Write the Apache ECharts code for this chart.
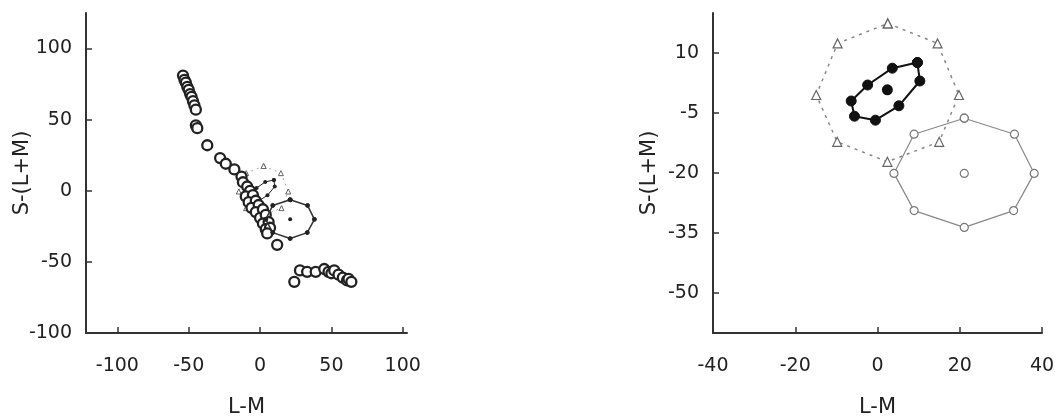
<!DOCTYPE html>
<html>
<head>
<meta charset="utf-8">
<script src="https://cdn.jsdelivr.net/npm/echarts@6/dist/echarts.min.js"></script>
<style>
  html, body { margin: 0; padding: 0; background: #fff; }
  #chart { width: 1055px; height: 418px; }
</style>
</head>
<body>
<div id="chart"></div>
<script>
// === ДАННЫЕ ===
// левая панель: след из открытых кружков [L-M, S-(L+M)]
const trailPoints = [
  [-54, 81], [-53, 78], [-52, 76], [-51, 73], [-50, 71], [-49, 68], [-48, 66], [-47, 63],
  [-46, 60], [-45, 57], [-45, 46], [-44, 44], [-37, 32], [-28, 23], [-24, 19], [-18, 15],
  [-13, 10], [-12, 6], [-9, 3], [-7, 0], [-10, -4], [-5, -3], [-8, -8], [-3, -7],
  [-6, -12], [-1, -10], [-3, -15], [2, -13], [0, -19], [4, -17], [2, -23], [6, -22],
  [4, -27], [7, -26], [5, -30], [12, -38],
  [28, -56], [24, -64], [33, -57], [39, -57], [45, -55], [48, -57], [50, -58], [52, -56],
  [55, -59], [58, -61], [61, -63], [62, -62], [64, -64]
];

// правая панель (и уменьшенная копия слева): три многоугольника
const filledX = [9.7, 3.6, -2.4, -6.4, -5.6, -0.5, 5.2, 10.3];
const filledY = [7.6, 6.2, 2.0, -2.0, -5.8, -6.8, -3.2, 3.0];
const filledCenter = [2.4, 0.8];

const triX = [2.5, 14.6, 19.8, 15.0, 2.4, -9.8, -14.9, -9.7];
const triY = [17.4, 12.4, -0.5, -12.2, -17.2, -12.2, -0.5, 12.4];

const openX = [21.1, 33.3, 38.1, 33.1, 21.1, 8.9, 4.0, 8.9];
const openY = [-6.3, -10.3, -20.1, -29.4, -33.6, -29.4, -20.1, -10.3];
const openCenter = [21.1, -20.1];

// подписи и деления осей
const leftXTicks = [-100, -50, 0, 50, 100];
const leftYTicks = [-100, -50, 0, 50, 100];
const rightXTicks = [-40, -20, 0, 20, 40];
const rightYTicks = [-50, -35, -20, -5, 10];

// === ВСПОМОГАТЕЛЬНОЕ ===
const FONT = 'DejaVu Sans';
const TXT = '#222';
const AX = '#333';

function ring(xs, ys) {
  const pts = xs.map((x, i) => [x, ys[i]]);
  pts.push(pts[0]);
  return pts;
}

function textStyle(size) {
  return { fontFamily: FONT, fontSize: size || 19, color: TXT };
}

// деления внутрь области: отрицательная длина
const tickStyle = { show: true, length: -6, lineStyle: { color: AX, width: 1.5 } };

function axisX(gridIndex, min, max, ticks) {
  return {
    type: 'value', gridIndex, min, max,
    name: 'L-M', nameLocation: 'middle', nameGap: 64, nameMoveOverlap: false,
    nameTextStyle: textStyle(21),
    axisLine: { show: true, onZero: false, lineStyle: { color: AX, width: 2 } },
    axisTick: Object.assign({ customValues: ticks }, tickStyle),
    axisLabel: Object.assign({ customValues: ticks, margin: 24 }, textStyle()),
    splitLine: { show: false }
  };
}

function axisY(gridIndex, min, max, ticks, gap) {
  return {
    type: 'value', gridIndex, min, max,
    name: 'S-(L+M)', nameLocation: 'middle', nameGap: gap, nameRotate: 90, nameMoveOverlap: false,
    nameTextStyle: textStyle(21),
    axisLine: { show: true, onZero: false, lineStyle: { color: AX, width: 2 } },
    axisTick: Object.assign({ customValues: ticks }, tickStyle),
    axisLabel: Object.assign({ customValues: ticks, margin: 14 }, textStyle()),
    splitLine: { show: false }
  };
}

function polySeries(idx, data, opts) {
  return {
    type: 'line', xAxisIndex: idx, yAxisIndex: idx, data,
    symbol: opts.symbol, symbolSize: opts.size,
    itemStyle: Object.assign({ opacity: 1 }, opts.item),
    lineStyle: opts.line,
    silent: true, animation: false, z: opts.z || 2
  };
}

function pointSeries(idx, data, opts) {
  return {
    type: 'scatter', xAxisIndex: idx, yAxisIndex: idx, data,
    symbol: opts.symbol, symbolSize: opts.size,
    itemStyle: Object.assign({ opacity: 1 }, opts.item),
    silent: true, animation: false, z: opts.z || 3
  };
}

// === РЕНДЕРИНГ ===
const chart = echarts.init(document.getElementById('chart'));

const option = {
  backgroundColor: '#fff',
  grid: [
    { left: 86, top: 13, width: 321, height: 320, outerBoundsMode: 'none' },
    { left: 713, top: 13, width: 329, height: 320, outerBoundsMode: 'none' }
  ],
  xAxis: [
    axisX(0, -122, 103, leftXTicks),
    axisX(1, -40, 40, rightXTicks)
  ],
  yAxis: [
    axisY(0, -100, 125, leftYTicks, 53),
    axisY(1, -60, 20, rightYTicks, 53)
  ],
  series: [
    // --- левая панель ---
    pointSeries(0, trailPoints, {
      symbol: 'circle', size: 10,
      item: { color: '#fff', borderColor: '#222', borderWidth: 2.3 }
    }),
    polySeries(0, ring(triX, triY), {
      symbol: 'triangle', size: 5,
      item: { color: '#fff', borderColor: '#666', borderWidth: 1 },
      line: { color: '#aaa', width: 1, type: [2, 4] }
    }),
    polySeries(0, ring(openX, openY), {
      symbol: 'circle', size: 4,
      item: { color: '#222', borderColor: '#222', borderWidth: 1 },
      line: { color: '#333', width: 1.5 }, z: 4
    }),
    pointSeries(0, [openCenter], {
      symbol: 'circle', size: 4, item: { color: '#222' }, z: 4
    }),
    polySeries(0, ring(filledX, filledY), {
      symbol: 'circle', size: 4,
      item: { color: '#222' },
      line: { color: '#222', width: 1 }
    }),

    // --- правая панель ---
    polySeries(1, ring(triX, triY), {
      symbol: 'triangle', size: 9,
      item: { color: '#fff', borderColor: '#666', borderWidth: 1.2 },
      line: { color: '#888', width: 1.5, type: [3, 5] }
    }),
    polySeries(1, ring(openX, openY), {
      symbol: 'circle', size: 8,
      item: { color: '#fff', borderColor: '#777', borderWidth: 1.2 },
      line: { color: '#888', width: 1.2 }
    }),
    pointSeries(1, [openCenter], {
      symbol: 'circle', size: 8,
      item: { color: '#fff', borderColor: '#777', borderWidth: 1.2 }
    }),
    polySeries(1, ring(filledX, filledY), {
      symbol: 'circle', size: 10,
      item: { color: '#111', borderColor: '#111' },
      line: { color: '#111', width: 2 }, z: 5
    }),
    pointSeries(1, [filledCenter], {
      symbol: 'circle', size: 11, item: { color: '#111' }, z: 5
    })
  ]
};

chart.setOption(option);

window.addEventListener('resize', function () {
  chart.resize();
});
</script>
</body>
</html>
